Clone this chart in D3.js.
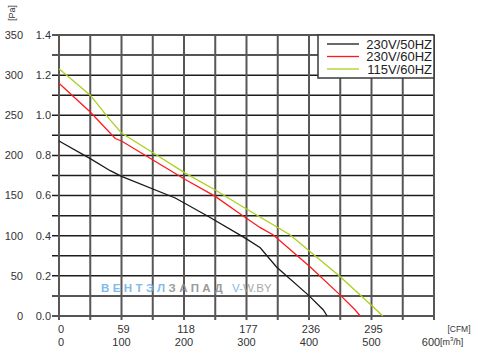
<!DOCTYPE html>
<html><head><meta charset="utf-8">
<script src="https://cdn.jsdelivr.net/npm/d3@7"></script>
<style>body{margin:0;background:#fff}svg{display:block;font-family:"Liberation Sans",Arial,sans-serif}</style>
</head><body>
<svg id="c" width="482" height="351"></svg>
<script>
const seriesNames = ["230V/50HZ","230V/60HZ","115V/60HZ"];
const seriesColors = ["#1a1a1a","#ff1a1a","#a8d21a"];
// flow in m3/h, pressure in Pa
const flow50 = [0, 50, 82, 100, 186, 239, 298, 322, 348, 399, 423, 429];
const pa50   = [218, 196, 181, 174, 147, 124, 97, 85, 61, 26, 7.5, 0];
const flow60 = [0, 50, 90, 100, 202, 250, 290, 322, 343, 402, 450, 474, 482];
const pa60   = [290, 254, 221, 218, 170, 149, 127, 110, 101, 61, 26, 7.5, 0];
const flow115 = [0, 50, 82, 100, 151, 202, 250, 290, 370, 402, 450, 508, 518];
const pa115   = [308, 275, 244, 228, 203, 178, 157, 138, 101, 80, 49, 7.5, 0];
const xTicksM3 = [0, 100, 200, 300, 400, 500, 600];
const xTicksCFM = ["0","59","118","177","236","295"];
const yTicksPa = [0, 50, 100, 150, 200, 250, 300, 350];
const yTicksIn = ["0.0","0.2","0.4","0.6","0.8","1.0","1.2","1.4"];

const svg = d3.select("#c");
const x = d3.scaleLinear().domain([0, 600]).range([59, 434]);
const y = d3.scaleLinear().domain([0, 350]).range([316, 35]);

// horizontal grid (every 25 Pa)
const hVals = d3.range(0, 351, 25);
svg.append("g").selectAll("line").data(hVals).join("line")
  .attr("x1", 52).attr("x2", x(600)).attr("y1", d => y(d)).attr("y2", d => y(d))
  .attr("stroke", "#1c1c1c").attr("stroke-width", 1.5);
// vertical grid (every 50 m3/h)
const vVals = d3.range(0, 601, 50);
svg.append("g").selectAll("line").data(vVals).join("line")
  .attr("x1", d => x(d)).attr("x2", d => x(d)).attr("y1", y(350)).attr("y2", 320)
  .attr("stroke", "#5a5656").attr("stroke-width", 2);

// curves
const line = d3.line().x(d => x(d[0])).y(d => y(d[1]));
const datasets = [d3.zip(flow50, pa50), d3.zip(flow60, pa60), d3.zip(flow115, pa115)];
datasets.forEach((ds, i) => {
  svg.append("path").datum(ds).attr("d", line).attr("fill", "none")
    .attr("stroke", seriesColors[i]).attr("stroke-width", 1.3);
});

// y labels
const yl = svg.append("g").attr("font-size", 11).attr("fill", "#333");
yTicksPa.forEach((v, i) => {
  yl.append("text").attr("x", 23).attr("y", y(v)).attr("dy", "0.35em").attr("text-anchor", "end").text(v);
  yl.append("text").attr("x", 51).attr("y", y(v)).attr("dy", "0.35em").attr("text-anchor", "end").text(yTicksIn[i]);
});
svg.append("text").attr("transform", `translate(15,13) rotate(-90)`).attr("text-anchor", "middle")
  .attr("font-size", 9).attr("fill", "#333").text("[Pa]");

// x labels
const xl = svg.append("g").attr("font-size", 11).attr("fill", "#333").attr("text-anchor", "middle");
xTicksCFM.forEach((t, i) => {
  xl.append("text").attr("x", x(xTicksM3[i]) + 2).attr("y", 333).text(t);
});
xTicksM3.forEach(v => {
  xl.append("text").attr("x", x(v) + (v === 0 ? 2 : v === 600 ? -3 : 0)).attr("y", 346).text(v);
});
svg.append("text").attr("x", 459).attr("y", 332).attr("text-anchor", "middle")
  .attr("font-size", 8.5).attr("fill", "#333").text("[CFM]");
const mu = svg.append("text").attr("x", 440).attr("y", 345).attr("font-size", 9).attr("fill", "#333");
mu.append("tspan").text("[m");
mu.append("tspan").attr("font-size", 6).attr("dy", -4).text("3");
mu.append("tspan").attr("dy", 4).text("/h]");

// watermark
const wm = svg.append("text").attr("x", 101).attr("y", 292).attr("font-size", 11.5)
  .attr("font-weight", "bold").attr("letter-spacing", 3.4).attr("opacity", 0.85);
wm.append("tspan").attr("fill", "#6ab0e8").text("ВЕНТЭЛ");
wm.append("tspan").attr("fill", "#8a8a8a").text("ЗАПАД");
const wm2 = svg.append("text").attr("x", 232).attr("y", 292).attr("font-size", 11.5).attr("opacity", 0.85);
wm2.append("tspan").attr("fill", "#6ab0e8").text("V-");
wm2.append("tspan").attr("fill", "#9a9a9a").text("W.BY");

// legend
const lg = svg.append("g");
lg.append("rect").attr("x", 318).attr("y", 35).attr("width", 116).attr("height", 43)
  .attr("fill", "#fff").attr("stroke", "#3a3a3a").attr("stroke-width", 1.5);
seriesNames.forEach((n, i) => {
  const ly = 44 + i * 12.5;
  lg.append("line").attr("x1", 327).attr("x2", 359).attr("y1", ly).attr("y2", ly)
    .attr("stroke", seriesColors[i]).attr("stroke-width", 1.3);
  lg.append("text").attr("x", 432).attr("y", ly).attr("dy", "0.36em").attr("text-anchor", "end")
    .attr("font-size", 13).attr("fill", "#222").text(n);
});
</script>
</body></html>
